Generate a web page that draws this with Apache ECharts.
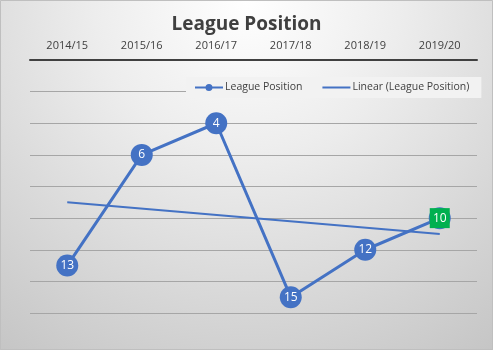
<!DOCTYPE html>
<html><head><meta charset="utf-8">
<script src="https://cdn.jsdelivr.net/npm/echarts@6/dist/echarts.min.js"></script>
<style>html,body{margin:0;padding:0;background:#fff}#c{width:493px;height:350px}</style>
</head><body><div id="c"></div>
<script>
var categories = ['2014/15','2015/16','2016/17','2017/18','2018/19','2019/20'];
var positions = [13, 6, 4, 15, 12, 10];
var trend = [9, null, null, null, null, 11];
var yTicks = [0, 2, 4, 6, 8, 10, 12, 14, 16];

var chart = echarts.init(document.getElementById('c'));
var font = '"Open Sans", "Noto Sans", sans-serif';
chart.setOption({
  animation: false,
  backgroundColor: {type:'radial', x:0.5, y:0, r:1.25, colorStops:[
    {offset:0, color:'#ffffff'}, {offset:0.35, color:'#ededed'}, {offset:1, color:'#c4c4c4'}]},
  title: {text:'League Position', left:'center', top:10,
    textStyle:{fontFamily:font, fontSize:19, fontWeight:'bold', color:'#404040'}},
  legend: {top:77, left:186, itemGap:20, padding:[5,12,5,9], backgroundColor:'#f2f2f2',
    itemWidth:28, itemHeight:8,
    textStyle:{fontFamily:font, fontSize:10.5, color:'#404040', padding:[0,0,0,-3]},
    data:[{name:'League Position', icon:'path://M0,2.9H28V5.1H0ZM14,0.5A3.5,3.5,0,1,1,13.99,0.5Z'},
          {name:'Linear (League Position)', icon:'path://M0,0.5L0.01,0.5M0,3.1H28V4.9H0ZM0,7.5L0.01,7.5'}]},
  grid: {left:30, right:16, top:60, bottom:37},
  xAxis: {type:'category', data:categories, position:'top',
    axisLine:{lineStyle:{color:'#404040', width:2}}, axisTick:{show:false},
    axisLabel:{fontFamily:font, fontSize:11, color:'#404040', margin:9}},
  yAxis: {type:'value', inverse:true, min:0, max:16, interval:2,
    axisLabel:{show:false}, axisLine:{show:false}, axisTick:{show:false},
    splitLine:{lineStyle:{color:'#a6a6a6', width:1}}},
  series: [
    {name:'League Position', type:'line', data:positions, z:2,
      symbol:'circle', symbolSize:22,
      lineStyle:{color:'#4472C4', width:3}, itemStyle:{color:'#4472C4'},
      label:{show:true, position:'inside', color:'#fff', fontFamily:font, fontSize:12},
      markPoint:{symbol:'rect', symbolSize:20, data:[{coord:[5, positions[5]], value:positions[5]}],
        itemStyle:{color:'#00B050'},
        label:{show:true, color:'#fff', fontFamily:font, fontSize:12}}},
    {name:'Linear (League Position)', type:'line', data:trend, connectNulls:true,
      symbol:'none', z:1, lineStyle:{color:'#4472C4', width:2}, itemStyle:{color:'#4472C4'}}
  ],
  graphic: [{type:'rect', shape:{x:0.5, y:0.5, width:492, height:349}, style:{fill:null, stroke:'#bfbfbf', lineWidth:1}, silent:true, z:100}]
});
</script></body></html>
